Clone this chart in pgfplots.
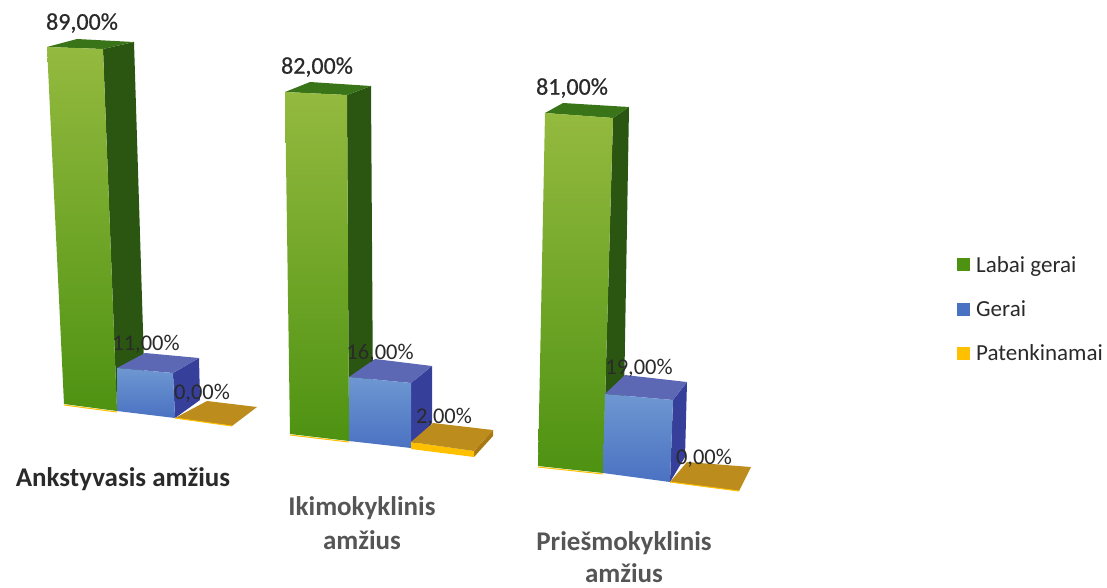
\documentclass[border=0pt]{standalone}
\usepackage{pgfplots}
\pgfplotsset{compat=1.18}
\usepackage{fontspec}
\setmainfont{Carlito}
\newfontfamily\semib[FakeBold=0.7]{Carlito}
\definecolor{gA}{HTML}{94BA3F}\definecolor{gB}{HTML}{6BA424}\definecolor{gC}{HTML}{4E9212}
\definecolor{gTop}{HTML}{3A7418}\definecolor{gSide}{HTML}{2A5612}
\definecolor{bA}{HTML}{6E97D2}\definecolor{bC}{HTML}{4A72C2}
\definecolor{bTop}{HTML}{5C68B4}\definecolor{bSide}{HTML}{363F9A}
\definecolor{oTop}{HTML}{BC8C1C}\definecolor{oFront}{HTML}{FFC000}\definecolor{oSide}{HTML}{A87812}
\definecolor{txt}{HTML}{2A2A2A}\definecolor{txtB}{HTML}{555555}
\newcommand{\face}[2]{\addplot[forget plot,draw=none,#1] coordinates {#2} -- cycle;}
\newcommand{\gfront}[1]{\face{top color=gA,middle color=gB,bottom color=gC}{#1}}
\newcommand{\bfront}[1]{\face{top color=bA,bottom color=bC}{#1}}
\pgfplotsset{squarelegend/.style={legend image code/.code={\fill[##1,draw=none] (0pt,-6.5pt) rectangle (13pt,6.5pt);}}}
\begin{document}
\begin{tikzpicture}
\path[use as bounding box] (0,0) rectangle (1107pt,587pt);
\begin{axis}[
  at={(0,0)},anchor=south west,
  scale only axis,width=1107pt,height=587pt,
  xmin=0,xmax=1107,ymin=0,ymax=587,y dir=reverse,
  hide axis,clip=false,
  legend style={at={(axis cs:957,254)},anchor=north west,draw=none,fill=none,
    font=\fontsize{23}{25}\selectfont,text=txt,row sep=23pt,inner sep=0pt},
  legend cell align=left,
]
% Ankstyvasis amzius: 89 / 11 / 0
\face{fill=gSide}{(103,49)(134,42)(145,395)(117,411)}
\face{fill=gTop}{(47,47)(77,39)(134,42)(103,49)}
\gfront{(47,47)(103,49)(117,411)(64,404)}
\addplot[forget plot,draw=oFront,line width=1pt] coordinates {(64,405)(117,412)};
\face{fill=bSide}{(173,373)(199,358)(200,400)(175,418)}
\face{fill=bTop}{(117,368)(173,373)(199,358)(145,353)}
\bfront{(117,368)(173,373)(175,418)(117,411)}
\face{fill=oTop}{(175,418)(207,401)(257,407)(232,426)}
\addplot[forget plot,draw=oFront,line width=1pt] coordinates {(175,418)(232,426)};
% Ikimokyklinis amzius: 82 / 16 / 2
\face{fill=gSide}{(347,95)(371,86)(373,400)(349,441)}
\face{fill=gTop}{(285,92)(310,82)(371,86)(347,95)}
\gfront{(285,92)(347,95)(349,441)(290,434)}
\addplot[forget plot,draw=oFront,line width=1pt] coordinates {(290,435)(349,442)};
\face{fill=bSide}{(411,383)(432,366)(432,423)(411,448)}
\face{fill=bTop}{(349,377)(411,383)(432,366)(375,359)}
\bfront{(349,377)(411,383)(411,448)(349,441)}
\face{fill=oSide}{(474,451)(493,430)(493,436)(474,457)}
\face{fill=oFront}{(411,442)(474,451)(474,457)(411,449)}
\face{fill=oTop}{(411,442)(433,423)(493,430)(474,451)}
% Priesmokyklinis amzius: 81 / 19 / 0
\face{fill=gSide}{(613,118)(629,107)(624,400)(603,473)}
\face{fill=gTop}{(545,113)(563,103)(629,107)(613,118)}
\gfront{(545,113)(613,118)(603,473)(538,466)}
\addplot[forget plot,draw=oFront,line width=1pt] coordinates {(538,467)(603,474)};
\face{fill=bSide}{(673,400)(687,382)(685,457)(670,482)}
\face{fill=bTop}{(605,394)(673,400)(687,382)(625,375)}
\bfront{(605,394)(673,400)(670,482)(603,473)}
\face{fill=oTop}{(670,482)(687,462)(751,467)(739,491)}
\addplot[forget plot,draw=oFront,line width=1pt] coordinates {(670,482)(739,491)};
% legend
\addlegendimage{squarelegend,fill=gC}\addlegendentry{\hspace{4pt}Labai gerai}
\addlegendimage{squarelegend,fill=bC}\addlegendentry{\hspace{4pt}Gerai}
\addlegendimage{squarelegend,fill=oFront}\addlegendentry{\hspace{4pt}Patenkinamai}
% value labels
\begin{scope}[every node/.style={text=txt,font=\fontsize{22.5}{24}\selectfont,inner sep=0pt}]
\node at (axis cs:82,23) {\semib\fontsize{24}{26}\selectfont 89,00\%};
\node at (axis cs:317,67) {\semib\fontsize{24}{26}\selectfont 82,00\%};
\node at (axis cs:572,88) {\semib\fontsize{24}{26}\selectfont 81,00\%};
\node at (axis cs:146,344) {11,00\%};
\node at (axis cs:202,393) {0,00\%};
\node at (axis cs:380,353) {16,00\%};
\node at (axis cs:444,417) {2,00\%};
\node at (axis cs:639,368) {19,00\%};
\node at (axis cs:704,458) {0,00\%};
\end{scope}
% category labels
\begin{scope}[every node/.style={font=\fontsize{27}{34}\selectfont\bfseries,inner sep=0pt,align=center}]
\node[text=txt] at (axis cs:123,479) {Ankstyvasis amžius};
\node[text=txtB] at (axis cs:362,523) {Ikimokyklinis\\amžius};
\node[text=txtB,font=\fontsize{27}{32}\selectfont\bfseries] at (axis cs:624,557) {Priešmokyklinis\\amžius};
\end{scope}
\end{axis}
\end{tikzpicture}
\end{document}
